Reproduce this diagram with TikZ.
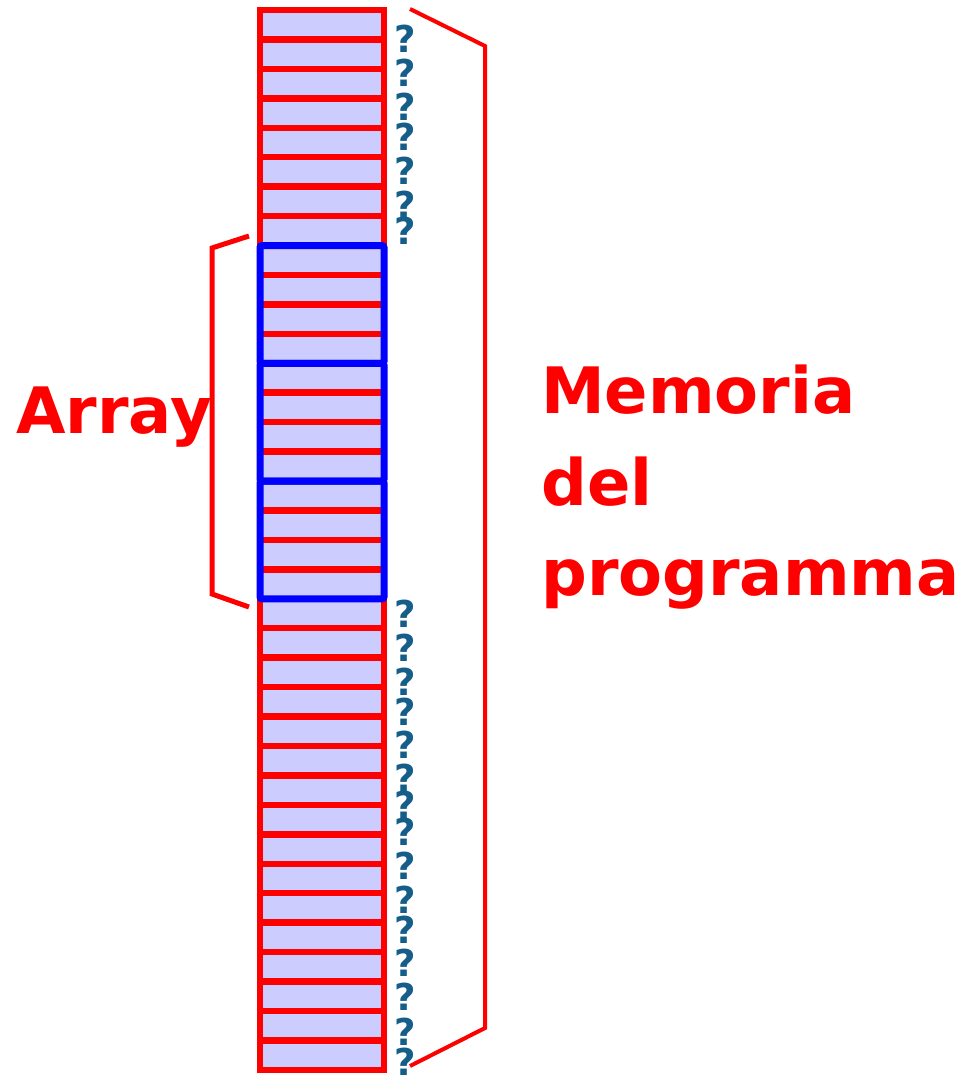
\documentclass[tikz,border=0pt]{standalone}
\usepackage{fontspec}
\setmainfont{DejaVu Sans}
\definecolor{lavanda}{RGB}{204,204,255}
\definecolor{azzurro}{RGB}{22,94,138}
\tikzset{
  cella/.style={draw=red, fill=lavanda, line width=6.5pt, minimum width=124pt,
    minimum height=29.44pt, inner sep=0pt, outer sep=0pt},
  gruppo/.style={draw=blue, line width=7pt, rounded corners=2pt},
  domanda/.style={text=azzurro, font=\bfseries\fontsize{37}{37}\selectfont, inner sep=0pt},
  parentesi/.style={draw=red, line width=4pt},
  etichetta/.style={text=red, font=\bfseries\fontsize{64}{92}\selectfont, inner sep=0pt}
}
\begin{document}
\begin{tikzpicture}[x=1pt,y=-1pt]
      \useasboundingbox (0,0) rectangle (972,1076);
      % celle di memoria
      \foreach \i in {0,...,35}
        \node[cella] (c\i) at (322,24.72+\i*29.44) {};
      % elementi dell'array
      \foreach \a/\b in {8/11,12/15,16/19}
        \draw[gruppo] (c\a.north west) rectangle (c\b.south east);
      % valori sconosciuti
      \foreach \y [count=\n] in {39,73,107,137,171,205,231,614,648,682,712,745,778,805,832,866,900,930,963,997,1032,1062}
        \node[domanda] (q\n) at (405,\y) {?};
      % parentesi
      \coordinate (at) at (249,236);
      \coordinate (ab) at (249,607);
      \draw[parentesi, line width=5pt] (at) -- (212,248) -- (212,594) -- (ab);
      \coordinate (mt) at (410,9);
      \coordinate (mb) at (410,1066);
      \draw[parentesi] (mt) -- (485,46) -- (485,1028) -- (mb);
      % etichette
      \node[etichetta, anchor=base west] (array) at (16,433) {Array};
      \node[etichetta, anchor=base west] (memoria) at (541,413) {Memoria};
      \node[etichetta, anchor=base west] (del) at (541,505) {del};
      \node[etichetta, anchor=base west] (programma) at (541,595) {programma};
    \end{tikzpicture}
\end{document}
